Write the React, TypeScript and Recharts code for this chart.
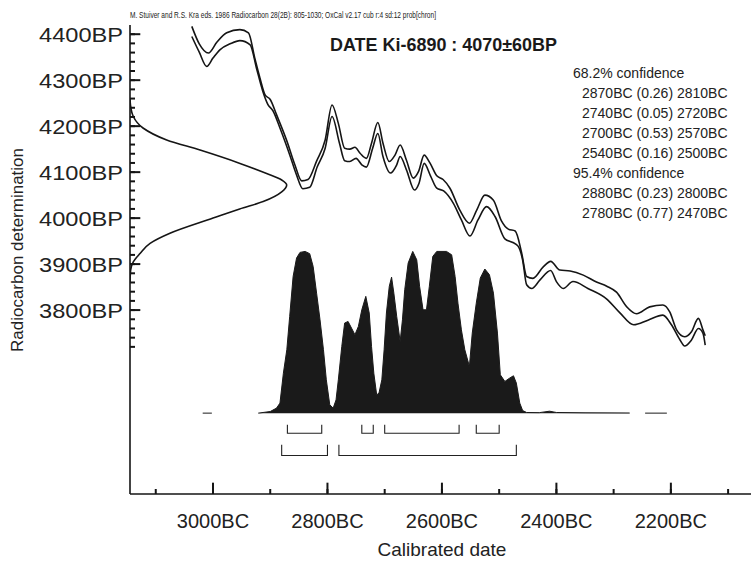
import { ComposedChart, XAxis, YAxis, Scatter, Area } from "recharts";

const FONT = '"Liberation Sans", Arial, Helvetica, sans-serif';
const INK = "#151515";

// calibration curve envelope, [year BC, radiocarbon age BP]
const upperCurve: [number, number][] = [
  [3037, 4417], [3024, 4379], [3008, 4359], [2993, 4383], [2976, 4403], [2953, 4410], [2938, 4403],
  [2927, 4348], [2918, 4305], [2909, 4268], [2900, 4258], [2889, 4225], [2871, 4168], [2857, 4116],
  [2845, 4081], [2834, 4084], [2819, 4124], [2804, 4170], [2792, 4246], [2781, 4206], [2770, 4152],
  [2761, 4150], [2752, 4154], [2743, 4141], [2732, 4130], [2723, 4163], [2712, 4208], [2703, 4163],
  [2692, 4123], [2682, 4137], [2673, 4159], [2662, 4126], [2650, 4087], [2641, 4101], [2631, 4137],
  [2621, 4120], [2609, 4092], [2598, 4084], [2586, 4065], [2569, 4018], [2552, 3989], [2539, 4018],
  [2525, 4050], [2510, 4039], [2496, 3994], [2484, 3976], [2472, 3972], [2461, 3926], [2452, 3873],
  [2441, 3869], [2423, 3894], [2410, 3906], [2394, 3887], [2376, 3885], [2353, 3876], [2330, 3861],
  [2312, 3852], [2295, 3839], [2277, 3807], [2260, 3792], [2237, 3807], [2214, 3811], [2202, 3796],
  [2190, 3757], [2176, 3742], [2164, 3753], [2152, 3782], [2144, 3757], [2140, 3744],
];

const lowerCurve: [number, number][] = [
  [3037, 4395], [3024, 4361], [3011, 4330], [3000, 4348], [2988, 4366], [2970, 4379], [2953, 4386],
  [2935, 4377], [2924, 4326], [2913, 4276], [2904, 4247], [2895, 4233], [2883, 4196], [2866, 4138],
  [2854, 4094], [2843, 4064], [2831, 4067], [2818, 4111], [2804, 4152], [2792, 4221], [2779, 4163],
  [2770, 4125], [2761, 4123], [2750, 4130], [2740, 4116], [2732, 4111], [2721, 4152], [2712, 4184],
  [2703, 4134], [2690, 4098], [2679, 4116], [2673, 4134], [2662, 4105], [2648, 4061], [2640, 4076],
  [2631, 4119], [2620, 4092], [2609, 4065], [2597, 4059], [2580, 4032], [2566, 3996], [2551, 3961],
  [2537, 3996], [2522, 4025], [2507, 4003], [2490, 3955], [2476, 3947], [2467, 3939], [2459, 3909],
  [2452, 3855], [2443, 3847], [2429, 3865], [2410, 3886], [2400, 3862], [2388, 3847], [2371, 3862],
  [2345, 3847], [2312, 3824], [2289, 3794], [2265, 3768], [2240, 3778], [2214, 3789], [2199, 3768],
  [2184, 3735], [2176, 3722], [2164, 3735], [2152, 3760], [2144, 3750], [2140, 3724],
];

// measured date 4070±60BP, relative density against BP
const dateDensity: [number, number][] = [
  [4260, 0], [4246, 0.003], [4221, 0.021], [4196, 0.083], [4170, 0.234], [4148, 0.447], [4119, 0.702],
  [4097, 0.872], [4083, 0.968], [4072, 1], [4057, 0.968], [4036, 0.85], [4020, 0.7], [4000, 0.53],
  [3967, 0.255], [3945, 0.128], [3923, 0.064], [3905, 0.021], [3887, 0.004], [3860, 0],
];

// calibrated probability, [year BC, relative probability]; null breaks the trace
const calibrated: [number, number | null][] = [
  [3018, 0], [3002, 0], [2990, null], [2921, 0], [2900, 0.01], [2889, 0.031], [2883, 0.062],
  [2877, 0.247], [2871, 0.392], [2866, 0.598], [2860, 0.845], [2854, 0.959], [2848, 0.994], [2839, 1],
  [2831, 0.986], [2825, 0.907], [2819, 0.742], [2813, 0.577], [2807, 0.392], [2802, 0.206], [2796, 0.052],
  [2790, 0.031], [2785, 0.082], [2781, 0.206], [2775, 0.412], [2770, 0.557], [2764, 0.567], [2758, 0.526],
  [2752, 0.485], [2746, 0.536], [2740, 0.639], [2733, 0.722], [2727, 0.619], [2723, 0.412], [2719, 0.247],
  [2714, 0.113], [2710, 0.124], [2705, 0.206], [2701, 0.392], [2697, 0.619], [2692, 0.784], [2688, 0.841],
  [2684, 0.742], [2679, 0.598], [2673, 0.443], [2669, 0.577], [2665, 0.763], [2659, 0.928], [2651, 1],
  [2644, 0.948], [2639, 0.784], [2633, 0.639], [2627, 0.639], [2622, 0.784], [2616, 0.969], [2609, 1],
  [2592, 1], [2583, 0.979], [2577, 0.845], [2572, 0.68], [2566, 0.515], [2560, 0.392], [2552, 0.289],
  [2547, 0.495], [2540, 0.68], [2533, 0.835], [2525, 0.891], [2517, 0.856], [2510, 0.742], [2503, 0.495],
  [2498, 0.237], [2490, 0.196], [2482, 0.216], [2475, 0.231], [2470, 0.186], [2464, 0.062], [2459, 0.016],
  [2452, 0.004], [2430, 0.003], [2412, 0.012], [2400, 0.004], [2350, 0.002], [2272, 0.001], [2260, null],
  [2245, 0], [2207, 0],
];

// [from BC, probability, to BC]
const ranges68: [number, number, number][] = [
  [2870, 0.26, 2810], [2740, 0.05, 2720], [2700, 0.53, 2570], [2540, 0.16, 2500],
];
const ranges95: [number, number, number][] = [
  [2880, 0.23, 2800], [2780, 0.77, 2470],
];

const dateTicks = [3100, 3000, 2900, 2800, 2700, 2600, 2500, 2400, 2300, 2200, 2100];
const bpTicks = Array.from({ length: 35 }, (_, i) => 3720 + i * 20);

const X_DOMAIN: [number, number] = [-3145, -2060];
const BP_DOMAIN: [number, number] = [3400, 4420];
const P_DOMAIN: [number, number] = [-0.5, 2.4];

const curveRows = (pts: [number, number][]) => pts.map(([yr, bp]) => ({ bc: -yr, bp }));
const upperRows = curveRows(upperCurve);
const lowerRows = curveRows(lowerCurve);
const densityRows = dateDensity.map(([bp, g]) => ({ g, bp }));
const calibratedRows = calibrated.map(([yr, p]) => ({ bc: -yr, p }));

// bracket rows below the histogram, in probability-axis units
const bracketRow = (ranges: [number, number, number][], top: number, bottom: number) =>
  ranges.map(([a, , b]) => [
    { bc: -a, p: top }, { bc: -a, p: bottom }, { bc: -b, p: bottom }, { bc: -b, p: top },
  ]);
const brackets = [...bracketRow(ranges68, -0.072, -0.124), ...bracketRow(ranges95, -0.196, -0.262)];

// the major ticks run further into the plot than the axis' own short ticks
const xIn = X_DOMAIN[0] + 0.5;
const pIn = P_DOMAIN[0] + 0.004;
const majorBpTicks = bpTicks.filter((bp) => bp % 100 === 0);
const majorDateTicks = dateTicks.filter((yr) => yr % 200 === 0);
const leftLong = majorBpTicks.map((bp) => [{ bc: xIn, bp }, { bc: xIn + 17.5, bp }]);
const bottomLong = majorDateTicks.map((yr) => [{ bc: -yr, p: pIn }, { bc: -yr, p: pIn + 0.066 }]);

const NoDot = () => <g />;

// axis ticks are drawn inward (negative tickSize), so labels are shifted back out
function DateLabel({ x, y, payload }: any) {
  const yr = -payload.value;
  if (yr % 200 !== 0) return <g />;
  return (
    <text x={x} y={y + 39} textAnchor="middle" fontSize={20} fill="#222" fontFamily={FONT}>
      {yr}BC
    </text>
  );
}

function BpLabel({ x, y, payload }: any) {
  const v = payload.value;
  if (v % 100 !== 0) return <g />;
  return (
    <text
      x={x - 12} y={y} dy="0.36em" textAnchor="end" fontSize={21} fill="#222" fontFamily={FONT}
      textLength={84} lengthAdjust="spacingAndGlyphs"
    >
      {v}BP
    </text>
  );
}

const rangeText = ([a, p, b]: [number, number, number]) => `${a}BC (${p.toFixed(2)}) ${b}BC`;

export default function App() {
  const legendLines = [
    { text: "68.2% confidence", indent: false },
    ...ranges68.map((r) => ({ text: rangeText(r), indent: true })),
    { text: "95.4% confidence", indent: false },
    ...ranges95.map((r) => ({ text: rangeText(r), indent: true })),
  ];

  return (
    <div style={{ position: "absolute", left: 0, top: 0, width: 752, height: 562, background: "#fff" }}>
      <ComposedChart width={752} height={562} margin={{ top: 25, right: 1, bottom: 0, left: 0 }}>
        <XAxis
          xAxisId="date" dataKey="bc" type="number" domain={X_DOMAIN} allowDataOverflow
          ticks={dateTicks.map((d) => -d)} interval={0} tick={(p: any) => <DateLabel {...p} />}
          tickLine={{ stroke: INK, strokeWidth: 2 }} tickSize={-5} tickMargin={0} height={68}
          axisLine={{ stroke: INK, strokeWidth: 1.6 }}
        />
        <XAxis
          xAxisId="top" orientation="top" dataKey="bc" type="number" domain={X_DOMAIN} allowDataOverflow
          ticks={dateTicks.map((d) => -d)} interval={0} tick={false}
          tickLine={{ stroke: "#444", strokeWidth: 1 }} tickSize={-3} height={0}
          axisLine={{ stroke: "#333", strokeWidth: 1 }}
        />
        <XAxis xAxisId="g" dataKey="g" type="number" domain={[0, 3.963]} allowDataOverflow hide />
        <YAxis
          yAxisId="bp" dataKey="bp" type="number" domain={BP_DOMAIN} allowDataOverflow
          ticks={bpTicks} interval={0} tick={(p: any) => <BpLabel {...p} />}
          tickLine={{ stroke: INK, strokeWidth: 2 }} tickSize={-5} tickMargin={0} width={130}
          axisLine={{ stroke: INK, strokeWidth: 1.6 }}
        />
        <YAxis yAxisId="p" dataKey="p" type="number" domain={P_DOMAIN} allowDataOverflow hide />

        <Area
          xAxisId="date" yAxisId="p" data={calibratedRows} dataKey="p" type="linear" baseValue={0}
          fill="#1a1a1a" fillOpacity={1} stroke="#1a1a1a" strokeWidth={1}
          dot={false} activeDot={false} isAnimationActive={false}
        />

        <Scatter
          xAxisId="g" yAxisId="bp" data={densityRows} shape={NoDot} line={{ stroke: INK, strokeWidth: 1.6 }}
          lineJointType="monotoneY" isAnimationActive={false}
        />
        <Scatter
          xAxisId="date" yAxisId="bp" data={upperRows} shape={NoDot} line={{ stroke: INK, strokeWidth: 1.6 }}
          lineJointType="monotoneX" isAnimationActive={false}
        />
        <Scatter
          xAxisId="date" yAxisId="bp" data={lowerRows} shape={NoDot} line={{ stroke: INK, strokeWidth: 1.6 }}
          lineJointType="monotoneX" isAnimationActive={false}
        />

        {brackets.map((rows, i) => (
          <Scatter
            key={`b${i}`} xAxisId="date" yAxisId="p" data={rows} shape={NoDot}
            line={{ stroke: "#222", strokeWidth: 1.1 }} lineJointType="linear" isAnimationActive={false}
          />
        ))}

        {leftLong.map((rows, i) => (
          <Scatter
            key={`l${i}`} xAxisId="date" yAxisId="bp" data={rows} shape={NoDot}
            line={{ stroke: INK, strokeWidth: 2 }} lineJointType="linear" isAnimationActive={false}
          />
        ))}
        {bottomLong.map((rows, i) => (
          <Scatter
            key={`d${i}`} xAxisId="date" yAxisId="p" data={rows} shape={NoDot}
            line={{ stroke: INK, strokeWidth: 2 }} lineJointType="linear" isAnimationActive={false}
          />
        ))}
      </ComposedChart>

      <svg
        width={752} height={562}
        style={{ position: "absolute", left: 0, top: 0, pointerEvents: "none" }}
        fontFamily={FONT}
      >
        <text x={130} y={18} fontSize={9} fill="#222" textLength={306} lengthAdjust="spacingAndGlyphs">
          M. Stuiver and R.S. Kra eds. 1986 Radiocarbon 28(2B): 805-1030;  OxCal v2.17 cub r:4 sd:12 prob[chron]
        </text>
        <text x={330} y={51} fontSize={17.5} fontWeight="bold" fill="#1a1a1a" textLength={227} lengthAdjust="spacingAndGlyphs">
          DATE Ki-6890 : 4070±60BP
        </text>
        {legendLines.map((l, i) => (
          <text key={i} x={l.indent ? 582 : 573} y={77.5 + i * 20.1} fontSize={14} fill="#222">
            {l.text}
          </text>
        ))}
        <text x={442} y={556} textAnchor="middle" fontSize={19} fill="#222">
          Calibrated date
        </text>
        <text
          x={0} y={0} transform="translate(23 250) rotate(-90)" textAnchor="middle" fontSize={17}
          fill="#222" textLength={204} lengthAdjust="spacingAndGlyphs"
        >
          Radiocarbon determination
        </text>
      </svg>
    </div>
  );
}
